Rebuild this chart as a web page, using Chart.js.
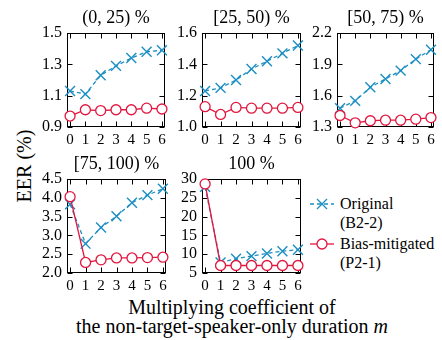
<!DOCTYPE html>
<html><head><meta charset="utf-8">
<script src="https://cdn.jsdelivr.net/npm/chart.js@4.4.1/dist/chart.umd.min.js"></script>
<style>
html,body{margin:0;padding:0;background:#fff;}
#wrap{position:relative;width:442px;height:340px;overflow:hidden;background:#fff;font-family:'Liberation Serif',serif;color:#000;}
canvas{position:absolute;}
.t{position:absolute;white-space:nowrap;line-height:1;font-family:'Liberation Serif',serif;}
</style></head><body>
<div id="wrap">
  <div class="t" id="ylab" style="font-size:20px;left:24px;top:166px;transform:translate(-50%,-50%) rotate(-90deg);">EER (%)</div>
  <div class="t" style="font-size:20px;left:232px;top:307px;transform:translate(-50%,-50%);">Multiplying coefficient of</div>
  <div class="t" style="font-size:20px;left:232px;top:326px;transform:translate(-50%,-50%);">the non-target-speaker-only duration <i>m</i></div>
  <svg style="position:absolute;left:308px;top:196px;" width="28" height="56">
    <line x1="2" y1="8" x2="26" y2="8" stroke="#1b8ec2" stroke-width="1.3" stroke-dasharray="4,3"/>
    <line x1="9" y1="3" x2="19" y2="13" stroke="#1b8ec2" stroke-width="1.3"/>
    <line x1="19" y1="3" x2="9" y2="13" stroke="#1b8ec2" stroke-width="1.3"/>
    <line x1="2" y1="48" x2="26" y2="48" stroke="#e3163f" stroke-width="1.3"/>
    <circle cx="14" cy="48" r="5" fill="#fff" stroke="#e3163f" stroke-width="1.3"/>
  </svg>
  <div class="t" style="font-size:16px;left:340px;top:204px;transform:translateY(-50%);">Original</div>
  <div class="t" style="font-size:16px;left:340px;top:223px;transform:translateY(-50%);">(B2-2)</div>
  <div class="t" style="font-size:16px;left:340px;top:244px;transform:translateY(-50%);">Bias-mitigated</div>
  <div class="t" style="font-size:16px;left:340px;top:263px;transform:translateY(-50%);">(P2-1)</div>
</div>
<script>
// ---- data ----
const mValues = [0, 1, 2, 3, 4, 5, 6];
const panelTitles = ["(0, 25) %", "[25, 50) %", "[50, 75) %", "[75, 100) %", "100 %"];

const original_0_25   = [1.13, 1.11, 1.23, 1.29, 1.34, 1.38, 1.39];
const mitigated_0_25  = [0.97, 1.01, 1.005, 1.01, 1.01, 1.02, 1.015];
const original_25_50  = [1.23, 1.25, 1.30, 1.37, 1.42, 1.47, 1.52];
const mitigated_25_50 = [1.13, 1.08, 1.125, 1.12, 1.12, 1.12, 1.125];
const original_50_75  = [1.48, 1.55, 1.68, 1.76, 1.84, 1.95, 2.04];
const mitigated_50_75 = [1.41, 1.34, 1.36, 1.365, 1.365, 1.375, 1.39];
const original_75_100  = [3.83, 2.78, 3.21, 3.51, 3.87, 4.07, 4.24];
const mitigated_75_100 = [4.03, 2.28, 2.35, 2.40, 2.40, 2.41, 2.42];
const original_100  = [27.9, 7.8, 8.8, 9.5, 10.2, 10.8, 11.2];
const mitigated_100 = [28.7, 7.0, 7.0, 7.0, 7.0, 7.0, 7.0];

const yTicks_0_25   = [0.9, 1.1, 1.3, 1.5];
const yTicks_25_50  = [1.0, 1.2, 1.4, 1.6];
const yTicks_50_75  = [1.3, 1.6, 1.9, 2.2];
const yTicks_75_100 = [2.0, 2.5, 3.0, 3.5, 4.0, 4.5];
const yTicks_100    = [5, 10, 15, 20, 25, 30];

const originalSeries  = [original_0_25, original_25_50, original_50_75, original_75_100, original_100];
const mitigatedSeries = [mitigated_0_25, mitigated_25_50, mitigated_50_75, mitigated_75_100, mitigated_100];
const yTickSets = [yTicks_0_25, yTicks_25_50, yTicks_50_75, yTicks_75_100, yTicks_100];
const yDecimals = [1, 1, 1, 1, 0];

// ---- layout ----
const BLUE = '#1b8ec2', RED = '#e3163f';
const FONT = "'Liberation Serif', serif";
const boxes = [
  {x: 67, y: 33, w: 98, h: 94},
  {x: 202, y: 33, w: 99, h: 94},
  {x: 337, y: 33, w: 97, h: 94},
  {x: 67, y: 179, w: 99, h: 94},
  {x: 202, y: 179, w: 99, h: 94}
];

const framePlugin = {
  id: 'frame',
  beforeDatasetsDraw(chart) {
    const {ctx, chartArea: a, scales: {x, y}} = chart;
    ctx.save();
    ctx.strokeStyle = '#000';
    ctx.lineWidth = 1;
    const L = Math.round(a.left) + 0.5, R = Math.round(a.right) - 0.5;
    const T = Math.round(a.top) + 0.5, B = Math.round(a.bottom) - 0.5;
    ctx.strokeRect(L, T, R - L, B - T);
    ctx.beginPath();
    x.ticks.forEach(t => {
      const p = Math.round(x.getPixelForValue(t.value)) + 0.5;
      ctx.moveTo(p, B); ctx.lineTo(p, B - 5);
      ctx.moveTo(p, T); ctx.lineTo(p, T + 5);
    });
    y.ticks.forEach(t => {
      const p = Math.round(y.getPixelForValue(t.value)) + 0.5;
      ctx.moveTo(L, p); ctx.lineTo(L + 5, p);
      ctx.moveTo(R, p); ctx.lineTo(R - 5, p);
    });
    ctx.stroke();
    ctx.restore();
  },
  afterDraw(chart, args, opts) {
    const {ctx, chartArea: a} = chart;
    ctx.save();
    ctx.fillStyle = '#000';
    ctx.font = '18px ' + FONT;
    ctx.textAlign = 'center';
    ctx.textBaseline = 'middle';
    ctx.fillText(opts.text, (a.left + a.right) / 2, a.top - 15);
    ctx.restore();
  }
};

function draw() {
  const wrap = document.getElementById('wrap');
  boxes.forEach((box, i) => {
    const W = 44, T = 34, H = 24, R = 10;
    const cw = W + box.w + R, ch = T + box.h + H;
    const cv = document.createElement('canvas');
    cv.width = cw; cv.height = ch;
    cv.style.left = (box.x - W) + 'px';
    cv.style.top = (box.y - T) + 'px';
    cv.style.width = cw + 'px'; cv.style.height = ch + 'px';
    wrap.appendChild(cv);
    const ticksY = yTickSets[i];
    new Chart(cv, {
      type: 'line',
      data: {
        datasets: [
          {
            label: 'Bias-mitigated (P2-1)',
            data: mValues.map((m, k) => ({x: m, y: mitigatedSeries[i][k]})),
            borderColor: RED, backgroundColor: '#fff',
            borderWidth: 1.3, pointStyle: 'circle', pointRadius: 5,
            pointBorderWidth: 1.3, pointBackgroundColor: '#fff', pointBorderColor: RED,
            clip: false, tension: 0
          },
          {
            label: 'Original (B2-2)',
            data: mValues.map((m, k) => ({x: m, y: originalSeries[i][k]})),
            borderColor: BLUE, backgroundColor: BLUE,
            borderWidth: 1.3, borderDash: [4, 3], pointStyle: 'crossRot', pointRadius: 7,
            pointBorderWidth: 1.4, pointBorderColor: BLUE,
            clip: false, tension: 0
          }
        ]
      },
      options: {
        responsive: false, animation: false, devicePixelRatio: 1,
        font: {family: FONT},
        layout: {padding: {top: T, right: R, left: 0, bottom: 0}},
        plugins: {legend: {display: false}, tooltip: {enabled: false}, frame: {text: panelTitles[i]}},
        scales: {
          x: {
            type: 'linear', min: -0.2, max: 6.2,
            afterBuildTicks: s => { s.ticks = mValues.map(v => ({value: v})); },
            afterFit: s => { s.height = H; },
            grid: {display: false, drawTicks: false}, border: {display: false},
            ticks: {font: {family: FONT, size: 15}, color: '#000', padding: 4, maxRotation: 0, autoSkip: false,
                    callback: v => String(v)}
          },
          y: {
            type: 'linear', min: ticksY[0], max: ticksY[ticksY.length - 1],
            afterBuildTicks: s => { s.ticks = ticksY.map(v => ({value: v})); },
            afterFit: s => { s.width = W; },
            grid: {display: false, drawTicks: false}, border: {display: false},
            ticks: {font: {family: FONT, size: 16}, color: '#000', padding: 5, autoSkip: false,
                    callback: v => Number(v).toFixed(yDecimals[i])}
          }
        }
      },
      plugins: [framePlugin]
    });
  });
}
Chart.defaults.font.family = FONT;
if (document.fonts && document.fonts.load) {
  Promise.all([document.fonts.load("16px 'Liberation Serif'"), document.fonts.load("italic 16px 'Liberation Serif'")])
    .then(draw, draw);
} else { draw(); }
</script>
</body></html>
